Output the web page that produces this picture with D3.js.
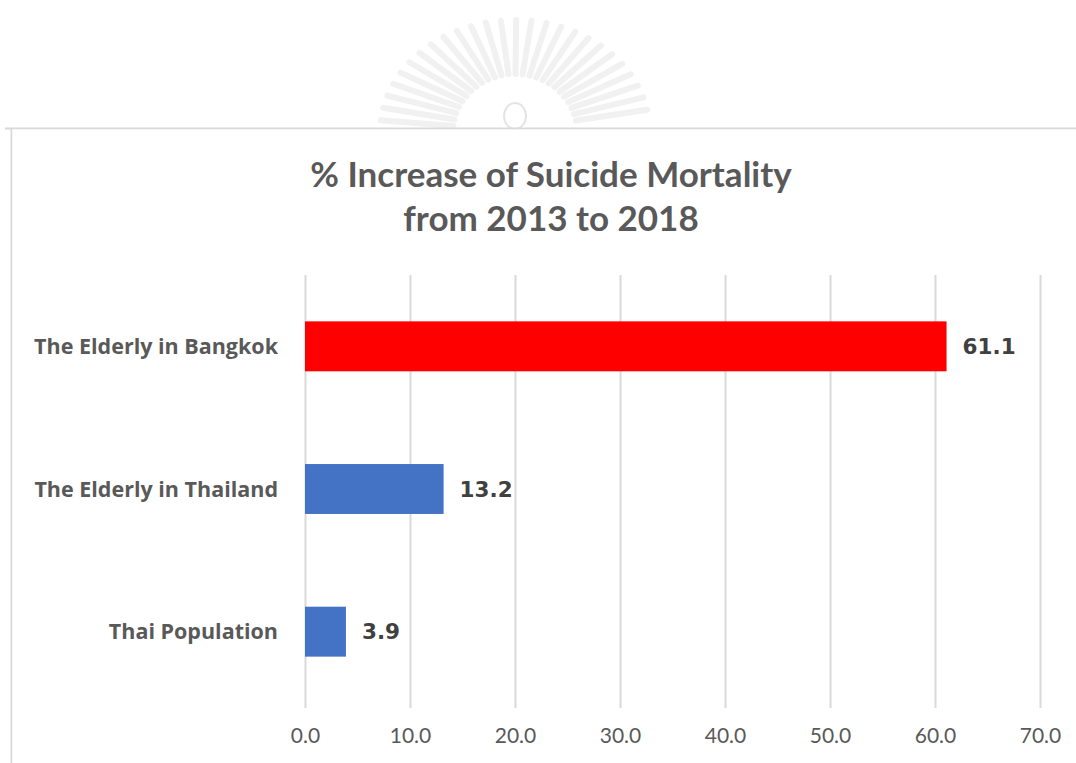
<!DOCTYPE html>
<html>
<head>
<meta charset="utf-8">
<script src="https://cdn.jsdelivr.net/npm/d3@7"></script>
<style>
  body { margin: 0; background: #fff; }
  svg { display: block; }
</style>
</head>
<body>
<svg id="chart"></svg>
<script>

// data
var categories = ["The Elderly in Bangkok", "The Elderly in Thailand", "Thai Population"];
var values = [61.1, 13.2, 3.9];
var barColours = ["#ff0000", "#4472c4", "#4472c4"];
var xTicks = [0, 10, 20, 30, 40, 50, 60, 70];
var titleLines = ["% Increase of Suicide Mortality", "from 2013 to 2018"];

var width = 1076,
    height = 763;

var plot = {top: 275, bottom: 708, left: 305, right: 1040};

var svg = d3.select("#chart")
    .attr("width", width)
    .attr("height", height);

// faint emblem watermark behind the top of the frame
var mark = svg.append("g")
    .attr("transform", "translate(515,132)");

var rayAngles = d3.range(-84, 85, 6.5);
mark.selectAll(".ray")
    .data(rayAngles)
  .enter().append("line")
    .attr("class", "ray")
    .attr("x1", function(a) { return Math.sin(a * Math.PI / 180) * 62; })
    .attr("y1", function(a) { return -Math.cos(a * Math.PI / 180) * 58; })
    .attr("x2", function(a) { return Math.sin(a * Math.PI / 180) * 135; })
    .attr("y2", function(a) { return -Math.cos(a * Math.PI / 180) * 112; })
    .style("stroke", "#f1f1f1")
    .style("stroke-width", 6)
    .style("stroke-linecap", "round");

mark.append("ellipse")
    .attr("cx", 0)
    .attr("cy", -16)
    .attr("rx", 11)
    .attr("ry", 13)
    .style("fill", "none")
    .style("stroke", "#e4e4e4")
    .style("stroke-width", 2);

// chart frame (only top and left edges show)
svg.append("path")
    .attr("d", "M5,128.5H1076M11.5,128.5V763")
    .style("fill", "none")
    .style("stroke", "#d9d9d9")
    .style("stroke-width", 2);

svg.append("rect")
    .attr("x", 12.5).attr("y", 129.5)
    .attr("width", width).attr("height", height)
    .style("fill", "#fff");

// title
svg.append("g").selectAll("text")
    .data(titleLines)
  .enter().append("text")
    .attr("x", 551)
    .attr("y", function(d, i) { return 187 + i * 44; })
    .attr("text-anchor", "middle")
    .style("font-family", "Lato, 'Open Sans', sans-serif")
    .style("font-weight", "bold")
    .style("font-size", "35px")
    .style("fill", "#595959")
    .text(function(d) { return d; });

var x = d3.scaleLinear()
    .domain([0, 70])
    .range([plot.left, plot.right]);

var y = d3.scaleBand()
    .domain(categories)
    .range([plot.top, plot.bottom - 5])
    .paddingInner(0.65)
    .paddingOuter(0.325);

// gridlines + tick labels
var xAxis = d3.axisBottom(x)
    .tickValues(xTicks)
    .tickSize(-(plot.bottom - plot.top))
    .tickPadding(20)
    .tickFormat(d3.format(".1f"));

var gx = svg.append("g")
    .attr("transform", "translate(0," + plot.bottom + ")")
    .call(xAxis);

gx.select(".domain").remove();
gx.selectAll(".tick line")
    .style("stroke", "#d9d9d9")
    .style("stroke-width", 2);
gx.selectAll(".tick text")
    .style("font-family", "Lato, sans-serif")
    .style("font-size", "21px")
    .style("fill", "#595959");

// bars
svg.append("g").selectAll("rect")
    .data(values)
  .enter().append("rect")
    .attr("x", x(0))
    .attr("y", function(d, i) { return y(categories[i]); })
    .attr("width", function(d) { return x(d) - x(0); })
    .attr("height", y.bandwidth())
    .style("fill", function(d, i) { return barColours[i]; });

// value labels
svg.append("g").selectAll("text")
    .data(values)
  .enter().append("text")
    .attr("x", function(d) { return x(d) + 16; })
    .attr("y", function(d, i) { return y(categories[i]) + y.bandwidth() / 2; })
    .attr("dy", "0.36em")
    .style("font-family", "'DejaVu Sans', sans-serif")
    .style("font-weight", "bold")
    .style("font-size", "21.5px")
    .style("fill", "#404040")
    .text(function(d) { return d.toFixed(1); });

// category labels
svg.append("g").selectAll("text")
    .data(categories)
  .enter().append("text")
    .attr("x", 278)
    .attr("y", function(d) { return y(d) + y.bandwidth() / 2; })
    .attr("dy", "0.36em")
    .attr("text-anchor", "end")
    .style("font-family", "'Open Sans', sans-serif")
    .style("font-weight", "bold")
    .style("font-size", "21.5px")
    .style("fill", "#595959")
    .text(function(d) { return d; });

</script>
</body>
</html>
